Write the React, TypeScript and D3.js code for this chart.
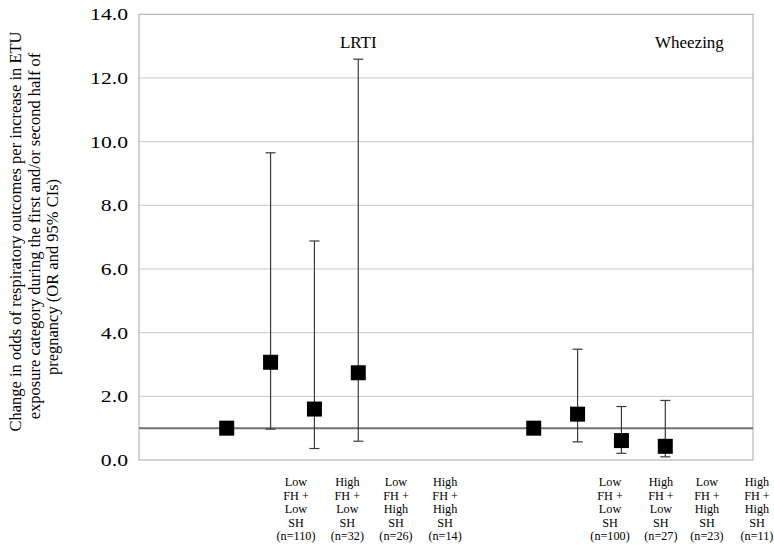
import React from "react";
import * as d3 from "d3";

const W = 774;
const H = 547;

// Data (x positions are in chart units 0..14)
const pointX = [2, 3, 4, 5, 9, 10, 11, 12];
const oddsRatio = [1.0, 3.07, 1.6, 2.74, 1.0, 1.44, 0.61, 0.43];
const ciLow = [null, 0.97, 0.36, 0.59, null, 0.57, 0.21, 0.1];
const ciHigh = [null, 9.65, 6.88, 12.59, null, 3.48, 1.68, 1.87];

const yTicks = [0, 2, 4, 6, 8, 10, 12, 14];
const groupTitles = ["LRTI", "Wheezing"];
const groupTitleX = [5.0, 12.55];

const categoryLabels = [
  ["Low", "FH +", "Low", "SH", "(n=110)"],
  ["High", "FH +", "Low", "SH", "(n=32)"],
  ["Low", "FH +", "High", "SH", "(n=26)"],
  ["High", "FH +", "High", "SH", "(n=14)"],
  ["Low", "FH +", "Low", "SH", "(n=100)"],
  ["High", "FH +", "Low", "SH", "(n=27)"],
  ["Low", "FH +", "High", "SH", "(n=23)"],
  ["High", "FH +", "High", "SH", "(n=11)"],
];
const categoryLabelX = [3.58, 4.75, 5.86, 6.98, 10.74, 11.9, 12.95, 14.09];

const yTitleLines = [
  "Change in odds of respiratory outcomes per increase in ETU",
  "exposure category during the first and/or second half of",
  "pregnancy (OR and 95% CIs)",
];
const referenceValue = 1.0;

const FONT = "Liberation Serif, DejaVu Serif, Noto Serif, Times New Roman, serif";

export default function App() {
  const left = 139;
  const right = 753;
  const top = 14.3;
  const bottom = 460;

  const x = d3.scaleLinear().domain([0, 14]).range([left, right]);
  const y = d3.scaleLinear().domain([0, 14]).range([bottom, top]);

  const ms = 15;
  const cap = 5;

  // rotated title line layout: [baseline x, center y]
  const titlePos = [
    [21, 231.5],
    [39.5, 236],
    [58, 277],
  ];

  return (
    <svg
      width={W}
      height={H}
      fontFamily={FONT}
      style={{ position: "absolute", left: 0, top: 0, background: "#fff" }}
    >
      <rect x={0} y={0} width={W} height={H} fill="#fff" />
      {/* gridlines */}
      {yTicks.slice(1, -1).map((t) => (
        <line key={t} x1={left} x2={right} y1={y(t)} y2={y(t)} stroke="#c8c8c8" strokeWidth={1} />
      ))}
      {/* plot border */}
      <rect x={left} y={top} width={right - left} height={bottom - top} fill="none" stroke="#a8a8a8" strokeWidth={1} />
      {/* reference line */}
      <line x1={left} x2={right} y1={y(referenceValue)} y2={y(referenceValue)} stroke="#727272" strokeWidth={2} />

      {/* y tick labels */}
      {yTicks.map((t) => (
        <text
          key={t}
          transform={`translate(128,${y(t)}) scale(1.24,1)`}
          dy="0.35em"
          textAnchor="end"
          fontSize={17.5}
          fill="#000"
          fontFamily={FONT}
        >
          {d3.format(".1f")(t)}
        </text>
      ))}

      {/* y title */}
      {yTitleLines.map((l, i) => (
        <text
          key={"t" + i}
          transform={`translate(${titlePos[i][0]},${titlePos[i][1]}) rotate(-90)`}
          textAnchor="middle"
          fontSize={16.5}
          fill="#000"
          fontFamily={FONT}
        >
          {l}
        </text>
      ))}

      {/* error bars */}
      {pointX.map((px, i) => {
        const lo = ciLow[i];
        const hi = ciHigh[i];
        if (lo == null || hi == null) return null;
        const cx = x(px);
        return (
          <g key={"e" + i} stroke="#3a3a3a" strokeWidth={1.2}>
            <line x1={cx} x2={cx} y1={y(lo)} y2={y(hi)} />
            <line x1={cx - cap} x2={cx + cap} y1={y(lo)} y2={y(lo)} />
            <line x1={cx - cap} x2={cx + cap} y1={y(hi)} y2={y(hi)} />
          </g>
        );
      })}

      {/* markers */}
      {pointX.map((px, i) => (
        <rect
          key={"m" + i}
          x={x(px) - ms / 2}
          y={y(oddsRatio[i]) - ms / 2}
          width={ms}
          height={ms}
          fill="#000"
        />
      ))}

      {/* group titles */}
      {groupTitles.map((g, i) => (
        <text key={g} x={x(groupTitleX[i])} y={48} textAnchor="middle" fontSize={17} fill="#000" fontFamily={FONT}>
          {g}
        </text>
      ))}

      {/* category labels */}
      {categoryLabels.map((lines, i) => (
        <text key={"c" + i} x={x(categoryLabelX[i])} y={486} textAnchor="middle" fontSize={12.2} fill="#000" fontFamily={FONT}>
          {lines.map((l, j) => (
            <tspan key={j} x={x(categoryLabelX[i])} dy={j === 0 ? 0 : 13.5}>
              {l}
            </tspan>
          ))}
        </text>
      ))}
    </svg>
  );
}
